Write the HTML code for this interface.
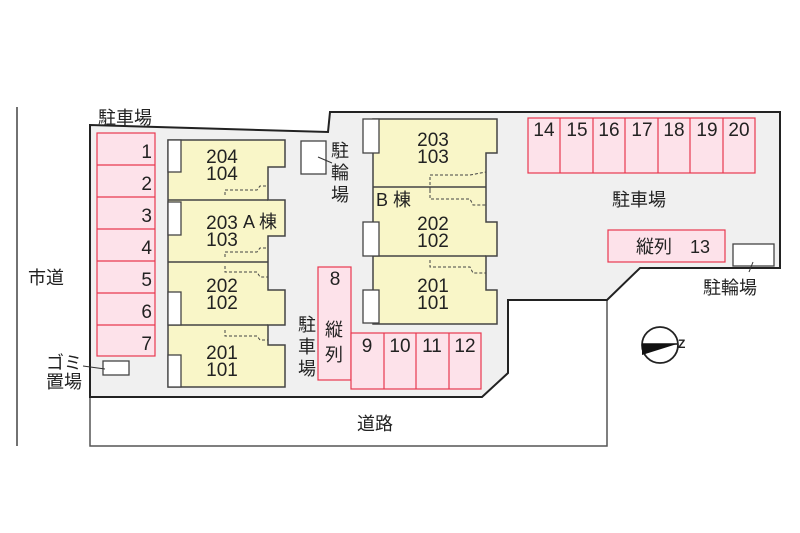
<!DOCTYPE html>
<html><head><meta charset="utf-8"><style>
html,body{margin:0;padding:0;background:#fff}
svg{display:block}
text{font-family:"Liberation Sans","Noto Sans CJK JP",sans-serif;fill:#222}
</style></head><body>
<svg width="800" height="533" viewBox="0 0 800 533" xmlns="http://www.w3.org/2000/svg">
<line x1="17" y1="107" x2="17" y2="446" stroke="#444" stroke-width="1.5"/>
<polyline points="90,396 90,446 607,446 607,300" fill="none" stroke="#555" stroke-width="1.5"/>
<polygon points="90,125 328,132 330,112 780,112 780,268 640,268 607,300 508,300 508,373 482,397 90,397" fill="#f0f0f0" stroke="#222" stroke-width="2"/>
<g fill="#fde2ea" stroke="#e8384f" stroke-width="1.2">
<rect x="97" y="133" width="58" height="223"/>
<line x1="97" y1="165" x2="155" y2="165"/><line x1="97" y1="197" x2="155" y2="197"/><line x1="97" y1="229" x2="155" y2="229"/><line x1="97" y1="261" x2="155" y2="261"/><line x1="97" y1="293" x2="155" y2="293"/><line x1="97" y1="325" x2="155" y2="325"/>
<rect x="528" y="118" width="227" height="55"/>
<line x1="560" y1="118" x2="560" y2="173"/><line x1="593" y1="118" x2="593" y2="173"/><line x1="625" y1="118" x2="625" y2="173"/><line x1="658" y1="118" x2="658" y2="173"/><line x1="690" y1="118" x2="690" y2="173"/><line x1="723" y1="118" x2="723" y2="173"/>
<rect x="608" y="230" width="117" height="32"/>
<rect x="318" y="267" width="33" height="113"/>
<rect x="351" y="333" width="130" height="56"/>
<line x1="384" y1="333" x2="384" y2="389"/><line x1="416" y1="333" x2="416" y2="389"/><line x1="449" y1="333" x2="449" y2="389"/>
</g>
<g fill="#f9f6c8" stroke="#444" stroke-width="1.5">
<polygon points="168,140 285,140 285,167 268,167 268,200 285,200 285,236 268,236 268,262 268,290 285,290 285,325 268,325 268,345 285,345 285,387 168,387"/>
<line x1="168" y1="200" x2="268" y2="200"/><line x1="168" y1="262" x2="268" y2="262"/><line x1="168" y1="325" x2="268" y2="325"/>
<polygon points="373,119 497,119 497,153 486,153 486,222 497,222 497,256 486,256 486,290 497,290 497,324 373,324"/>
<line x1="373" y1="187" x2="486" y2="187"/><line x1="373" y1="256" x2="486" y2="256"/>
</g>
<g fill="#fff" stroke="#444" stroke-width="1.3">
<rect x="168" y="140" width="13" height="32"/><rect x="168" y="202" width="13" height="33"/><rect x="168" y="292" width="13" height="33"/><rect x="168" y="355" width="13" height="32"/>
<rect x="363" y="119" width="16" height="34"/><rect x="363" y="222" width="16" height="34"/><rect x="363" y="290" width="16" height="33"/>
<rect x="301" y="141" width="25" height="33"/><rect x="733" y="244" width="41" height="22"/><rect x="103" y="361" width="26" height="14"/>
</g>
<g fill="none" stroke="#444" stroke-width="1" stroke-dasharray="3,2">
<polyline points="225,195 225,190 257,190 260,186 268,186"/>
<polyline points="225,257 225,252 257,252 260,248 268,248"/>
<polyline points="225,266 225,272 257,272 260,277 268,277"/>
<polyline points="225,330 225,336 257,336 260,340 268,340"/>
<polyline points="430,190 430,175 470,175 486,172"/>
<polyline points="430,190 430,199 470,199 473,205 486,205"/>
<polyline points="430,260 430,267 470,267 473,273 486,273"/>
</g>
<g stroke="#333" stroke-width="1"><line x1="318" y1="157" x2="332" y2="163"/><line x1="753" y1="262" x2="749" y2="272"/><line x1="83" y1="366" x2="105" y2="369"/></g>
<circle cx="660" cy="345" r="18" fill="#fff" stroke="#222" stroke-width="1.8"/>
<polygon points="642,344 677,344 642,355" fill="#111"/><line x1="642" y1="344" x2="677" y2="344" stroke="#111" stroke-width="1.5"/>
<text x="678" y="348" font-size="12" font-weight="bold">Z</text>
<g font-size="19" text-anchor="end">
<text x="152" y="158">1</text><text x="152" y="190">2</text><text x="152" y="222">3</text><text x="152" y="254">4</text><text x="152" y="286">5</text><text x="152" y="318">6</text><text x="152" y="350">7</text>
</g>
<g font-size="19" text-anchor="middle">
<text x="544" y="136">14</text><text x="577" y="136">15</text><text x="609" y="136">16</text><text x="642" y="136">17</text><text x="674" y="136">18</text><text x="707" y="136">19</text><text x="739" y="136">20</text>
<text x="335" y="285">8</text><text x="367" y="352">9</text><text x="400" y="352">10</text><text x="432" y="352">11</text><text x="465" y="352">12</text>
</g>
<g font-size="19" text-anchor="middle">
<text x="222" y="163">204</text><text x="222" y="180">104</text>
<text x="222" y="229">203</text><text x="222" y="246">103</text>
<text x="222" y="292">202</text><text x="222" y="309">102</text>
<text x="222" y="359">201</text><text x="222" y="376">101</text>
<text x="433" y="146">203</text><text x="433" y="163">103</text>
<text x="433" y="230">202</text><text x="433" y="247">102</text>
<text x="433" y="292">201</text><text x="433" y="309">101</text>
</g>
<g font-size="18">
<text x="243" y="228">A 棟</text><text x="376" y="206">B 棟</text>
<text x="636" y="253">縦列　13</text>
<text x="98" y="124">駐車場</text><text x="612" y="206">駐車場</text><text x="357" y="430">道路</text>
<text x="28" y="284">市道</text><text x="703" y="294">駐輪場</text>
<text x="46" y="369">ゴミ</text><text x="46" y="388">置場</text>
<text x="331" y="157">駐</text><text x="331" y="179">輪</text><text x="331" y="201">場</text>
<text x="298" y="331">駐</text><text x="298" y="353">車</text><text x="298" y="375">場</text>
<text x="325" y="336">縦</text><text x="325" y="361">列</text>
</g>
</svg>
</body></html>
